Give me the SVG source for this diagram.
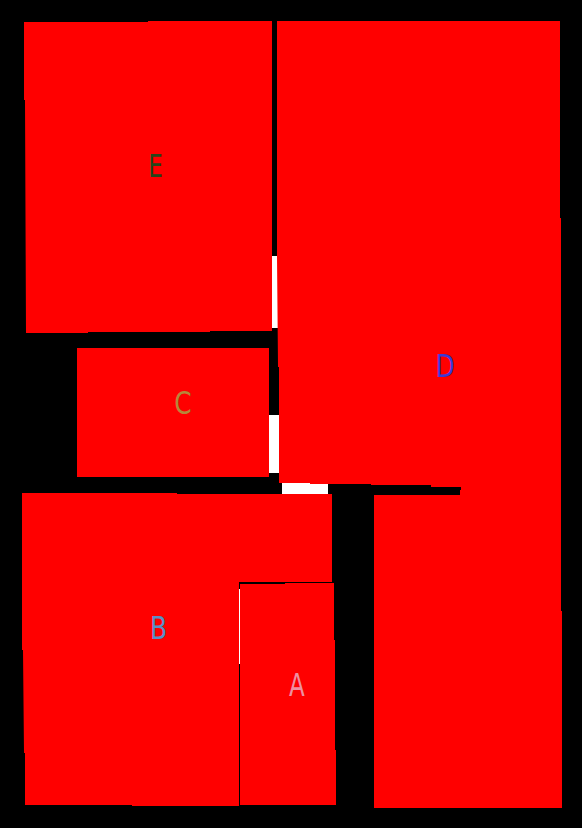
<svg xmlns="http://www.w3.org/2000/svg" width="582" height="828" viewBox="0 0 582 828">
  <style>
    .room { fill: #ff0000; stroke: none; }
    .gap { fill: #ffffff; stroke: none; }
    .lbl { font-family: "DejaVu Sans", "Liberation Sans", sans-serif; font-size: 32px; text-anchor: middle; }
  </style>
  <rect x="0" y="0" width="582" height="828" fill="#000000"/>
  <g id="openings">
    <rect class="gap" x="272" y="256" width="6" height="72"/>
    <rect class="gap" x="269" y="415" width="10" height="58"/>
    <rect class="gap" x="282" y="483" width="46" height="12"/>
  </g>
  <g id="room-E">
    <polygon class="room" points="24,22 148,22 148,21 272,21 272,331 210,331 210,332 88,332 88,333 26,333 25,100 24,100"/>
    <text class="lbl" fill="#24461a" transform="translate(155.5,177) scale(0.72,1)">E</text>
  </g>
  <g id="room-D">
    <polygon class="room" points="277,21 560,21 560,218 561,218 561,611 562,611 562,808 374,808 374,495 460,495 460,490 461,490 461,487 431,487 431,485 371,485 371,484 310,484 310,483 279,483 279,367 278,367 277,256"/>
    <text class="lbl" fill="#3a3ad8" transform="translate(445,377) scale(0.78,1)">D</text>
  </g>
  <g id="room-C">
    <rect class="room" x="77" y="348" width="192" height="129"/>
    <text class="lbl" fill="#b5873a" transform="translate(183,414) scale(0.78,1)">C</text>
  </g>
  <g id="room-B">
    <polygon class="room" points="22,493 177,493 177,494 332,494 332,582 239,582 239,806 132,806 132,805 25,805 25,753 24,753 23,650 22,650"/>
    <line x1="239.5" y1="589" x2="239.5" y2="664" stroke="#ffffff" stroke-width="1"/>
    <text class="lbl" fill="#5b8fc6" transform="translate(158.5,639) scale(0.78,1)">B</text>
  </g>
  <g id="room-A">
    <polygon class="room" points="240,584 285,584 285,583 334,583 334,640 335,640 335,750 336,750 336,805 240,805"/>
    <text class="lbl" fill="#ee8fa0" transform="translate(297,696) scale(0.72,1)">A</text>
  </g>
</svg>
